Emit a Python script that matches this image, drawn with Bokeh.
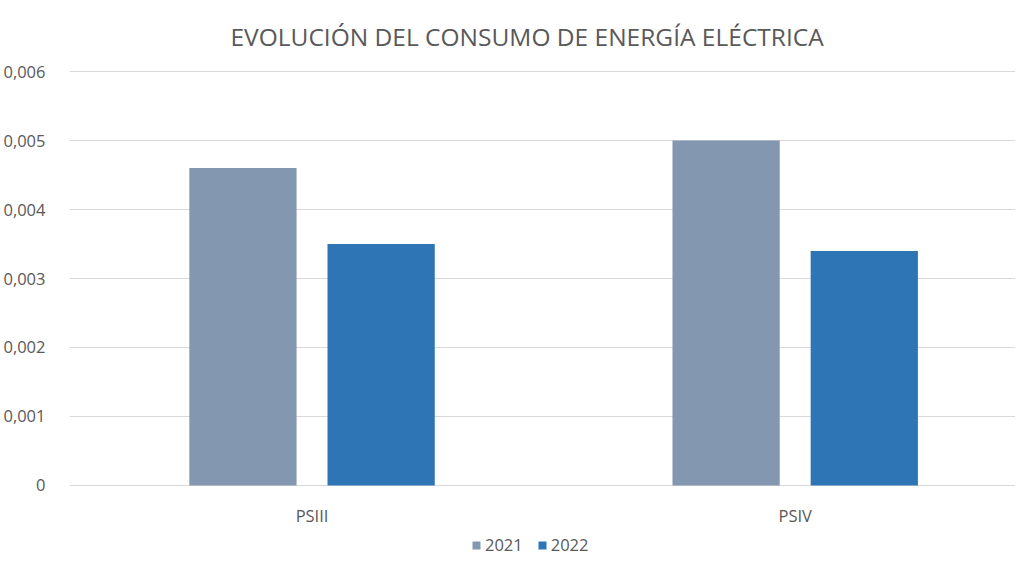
from bokeh.plotting import figure
from bokeh.models import (ColumnDataSource, Range1d, FixedTicker, CustomJSTickFormatter,
                          Legend, LegendItem)
from bokeh.core.properties import value
from bokeh.embed import file_html
from bokeh.resources import INLINE

title_text = "EVOLUCIÓN DEL CONSUMO DE ENERGÍA ELÉCTRICA"
categories = ["PSIII", "PSIV"]
years = ["2021", "2022"]
values_2021 = [0.0046, 0.0050]
values_2022 = [0.0035, 0.0034]
y_ticks = [0, 0.001, 0.002, 0.003, 0.004, 0.005, 0.006]

colors = ["#8497B0", "#2E75B6"]
FONT = "Open Sans"
TXT = "#595959"
SMALL = "16.5px"

bar_w = 0.222
offset = 0.143

p = figure(frame_width=946, frame_height=487, output_backend="svg", toolbar_location=None,
           x_range=Range1d(-0.502, 1.456), y_range=Range1d(-0.001029, 0.006029),
           x_axis_location=None,
           min_border_left=62, min_border_right=0, min_border_top=0, min_border_bottom=0)

p.title.text = title_text
p.title.align = "left"
p.title.offset = 161
p.title.text_font = FONT
p.title.text_font_style = "normal"
p.title.text_font_size = "24.5px"
p.title.text_color = TXT
p.title.standoff = 34

renderers = []
for k, (yr, vals) in enumerate(zip(years, [values_2021, values_2022])):
    xs = [i + (offset if k else -offset) for i in range(len(categories))]
    src = ColumnDataSource(dict(x=xs, top=vals))
    r = p.vbar(x="x", top="top", bottom=0, width=bar_w, source=src,
               fill_color=colors[k], line_color=None)
    renderers.append(r)

# category labels under the baseline
p.text(x=list(range(len(categories))), y=[0] * len(categories), text=categories,
       y_offset=30, text_align="center", text_baseline="middle",
       text_font=value(FONT), text_font_size=SMALL, text_color=TXT)

p.outline_line_color = None
p.xgrid.grid_line_color = None
p.ygrid.grid_line_color = "#D9D9D9"
p.ygrid.grid_line_width = 1
p.ygrid.ticker = FixedTicker(ticks=y_ticks)

p.yaxis.ticker = FixedTicker(ticks=y_ticks)
p.yaxis.formatter = CustomJSTickFormatter(code="""
    if (tick == 0) return '0';
    return tick.toFixed(3).replace('.', ',');
""")
p.yaxis.axis_line_color = None
p.yaxis.major_tick_line_color = None
p.yaxis.minor_tick_line_color = None
p.yaxis.major_label_standoff = 18
p.yaxis.major_label_text_font = FONT
p.yaxis.major_label_text_font_size = SMALL
p.yaxis.major_label_text_color = TXT

legend = Legend(items=[LegendItem(label=yr, renderers=[r]) for yr, r in zip(years, renderers)],
                orientation="horizontal", location=(402, 0),
                label_text_font=FONT, label_text_font_size=SMALL, label_text_color=TXT,
                glyph_width=10, glyph_height=10, spacing=14, label_standoff=4,
                border_line_color=None, background_fill_alpha=0, padding=0, margin=0)
p.add_layout(legend)

open("out.html", "w").write(file_html(p, INLINE))
